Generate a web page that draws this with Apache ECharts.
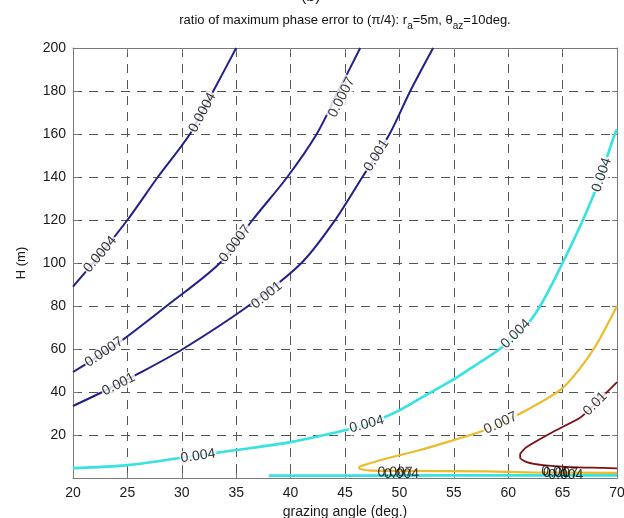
<!DOCTYPE html>
<html><head><meta charset="utf-8">
<script src="https://cdn.jsdelivr.net/npm/echarts@6/dist/echarts.min.js"></script>
<style>html,body{margin:0;padding:0;background:#fff}#c{width:624px;height:518px}</style>
</head><body><div id="c"></div>
<script>
// ---- data ----
const xTickValues = [20, 25, 30, 35, 40, 45, 50, 55, 60, 65, 70];
const yTickValues = [0, 20, 40, 60, 80, 100, 120, 140, 160, 180, 200];
const levels = ['0.0004', '0.0007', '0.001', '0.004', '0.007', '0.01'];

const c0004 = [[20,89],[22.5,104],[25,120],[27.8,140],[30.75,160],[32.9,180],[35,200]];
const c0007 = [[20,49.3],[22,55.5],[24.5,64],[28.6,80],[33.5,100],[36.5,120],[39.7,140],[42.4,160],[44.4,180],[46.4,200]];
const c001  = [[20,33.5],[22.7,40],[26,48.5],[30.1,60],[36.1,80],[41,100],[44.1,120],[46.6,140],[49.1,160],[51,180],[53.1,200]];
const c004a = [[20,4.6],[25,6],[29.8,9.3],[35,13],[40,16.7],[44,21],[47,25],[49.8,31],[51.9,37],[54.9,45.6],[57,52.5],[59.5,61],[62.3,75],[65,100],[67.8,131],[69.8,160],[70,162]];
const c004b = [[38,1.1],[45,1.1],[55,1.2],[70,1.2]];
const c007  = [[70,2.4],[62,2.6],[58,3.1],[50,3.3],[47.5,3.4],[46.4,4.2],[46.3,5],[47,6.4],[48.9,9.2],[51.9,13],[54.9,17.5],[57.7,22],[61.1,30],[64.8,41],[66.6,51],[68.2,62.8],[69.8,78],[70,80]];
const c01   = [[70,44.6],[68,34.5],[66.6,28],[64.1,21.4],[61.7,14.4],[61.1,11],[61.1,9.3],[61.7,7.4],[63.2,6],[65.7,5.1],[68.7,4.7],[70,4.5]];

const lab0004 = [[22.5,104],[31.9,170]];
const lab0007 = [[22.85,58.5],[34.9,109],[44.7,177]];
const lab001  = [[24.2,43.5],[37.8,85],[47.9,150]];
const lab004  = [[31.5,10.2],[47,25],[60.7,67],[68.6,141],[50.2,1.8],[65.3,1.4]];
const lab007  = [[59.3,25.5],[49.6,2.6],[64.8,2.3]];
const lab01   = [[68,34.5],[64.3,2.9]];

// ---- chart ----
const FONT = 'Liberation Sans, Arial, sans-serif';
const NAVY = '#20208a', CYAN = '#36e2e2', YELLOW = '#ecba2a', RED = '#7e1016';
const chart = echarts.init(document.getElementById('c'), null, {renderer: 'canvas'});

const lineSeries = (data, color, width, smooth) => ({
  type: 'line', data, showSymbol: false, symbol: 'none', smooth: smooth,
  lineStyle: {color, width}, z: 3, silent: true, animation: false
});

const boxAxis = {
  axisLine: {show: true, onZero: false, lineStyle: {color: '#7a7a7a', width: 1}},
  axisTick: {show: true, inside: true, length: 5, lineStyle: {color: '#7a7a7a'}}
};

const option = {
  animation: false,
  backgroundColor: '#fff',
  grid: {left: 73, right: 7, top: 48, bottom: 40, containLabel: false, outerBoundsMode: 'none'},
  graphic: [
    {type: 'text', left: 301, top: -11, style: {text: '(b)', fontSize: 16, fontFamily: FONT, fill: '#222'}},
    {type: 'text', x: 345, y: 20, style: {
      text: '{m|ratio of maximum phase error to (π/4): r}{s|a}{m|=5m, θ}{s|az}{m|=10deg.}',
      align: 'center', verticalAlign: 'middle',
      rich: {
        m: {fontSize: 13, fontFamily: FONT, fill: '#111', color: '#111'},
        s: {fontSize: 10, fontFamily: FONT, fill: '#111', color: '#111', padding: [12, 0, 0, 0]}
      }
    }}
  ],
  xAxis: [
    Object.assign({
      type: 'value', min: 20, max: 70, interval: 5, position: 'bottom',
      axisLabel: {color: '#1a1a1a', fontSize: 14, fontFamily: FONT, margin: 8},
      splitLine: {show: true, lineStyle: {color: '#555', width: 1, type: [9, 7]}},
      name: 'grazing angle (deg.)', nameLocation: 'middle', nameGap: 26,
      nameTextStyle: {color: '#1a1a1a', fontSize: 14, fontFamily: FONT}
    }, boxAxis),
    Object.assign({
      type: 'value', min: 20, max: 70, interval: 5, position: 'top',
      axisLabel: {show: false}, splitLine: {show: false}
    }, boxAxis)
  ],
  yAxis: [
    Object.assign({
      type: 'value', min: 0, max: 200, interval: 20, position: 'left',
      axisLabel: {color: '#1a1a1a', fontSize: 14, fontFamily: FONT, margin: 7,
        formatter: v => (v === 0 ? '' : String(v))},
      splitLine: {show: true, lineStyle: {color: '#555', width: 1, type: [9, 7]}},
      name: 'H (m)', nameLocation: 'middle', nameGap: 45,
      nameTextStyle: {color: '#1a1a1a', fontSize: 13, fontFamily: FONT}
    }, boxAxis),
    Object.assign({
      type: 'value', min: 0, max: 200, interval: 20, position: 'right',
      axisLabel: {show: false}, splitLine: {show: false}
    }, boxAxis)
  ],
  series: [
    lineSeries(c0004, NAVY, 2, 0.3),
    lineSeries(c0007, NAVY, 2, 0.3),
    lineSeries(c001, NAVY, 2, 0.3),
    lineSeries(c004b, CYAN, 2.6, false),
    lineSeries(c004a, CYAN, 2.6, 0.3),
    lineSeries(c007, YELLOW, 2.2, 0.25),
    lineSeries(c01, RED, 1.8, 0.2)
  ]
};
chart.setOption(option);

// contour labels, rotated along the local tangent of their curve
const labelSets = [
  {text: levels[0], pts: lab0004, curves: [c0004]},
  {text: levels[1], pts: lab0007, curves: [c0007]},
  {text: levels[2], pts: lab001, curves: [c001]},
  {text: levels[3], pts: lab004, curves: [c004a, c004b]},
  {text: levels[4], pts: lab007, curves: [c007]},
  {text: levels[5], pts: lab01, curves: [c01]}
];
const toPx = p => chart.convertToPixel({seriesIndex: 0}, p);
function tangentDeg(pt, curves) {
  const p = toPx(pt);
  let best = Infinity, ang = 0;
  curves.forEach(c => {
    for (let i = 0; i < c.length - 1; i++) {
      const a = toPx(c[i]), b = toPx(c[i + 1]);
      const dx = b[0] - a[0], dy = b[1] - a[1];
      const L2 = dx * dx + dy * dy || 1;
      let t = ((p[0] - a[0]) * dx + (p[1] - a[1]) * dy) / L2;
      t = Math.max(0, Math.min(1, t));
      const qx = a[0] + t * dx, qy = a[1] + t * dy;
      const d = Math.hypot(p[0] - qx, p[1] - qy);
      if (d < best) { best = d; ang = Math.atan2(dy, dx); }
    }
  });
  let deg = -ang * 180 / Math.PI;
  while (deg > 90) deg -= 180;
  while (deg < -90) deg += 180;
  return deg;
}
const labelSeries = labelSets.map(s => ({
  type: 'scatter', symbolSize: 1, itemStyle: {color: 'rgba(0,0,0,0)'}, z: 10, silent: true,
  data: s.pts.map(pt => ({
    value: pt,
    label: {
      show: true, position: 'inside', formatter: s.text,
      rotate: tangentDeg(pt, s.curves),
      fontSize: 14, fontFamily: FONT, color: '#000',
      backgroundColor: pt[1] < 4 ? 'transparent' : '#fff', padding: [0, 1]
    }
  }))
}));
chart.setOption({series: option.series.concat(labelSeries)});
</script></body></html>
